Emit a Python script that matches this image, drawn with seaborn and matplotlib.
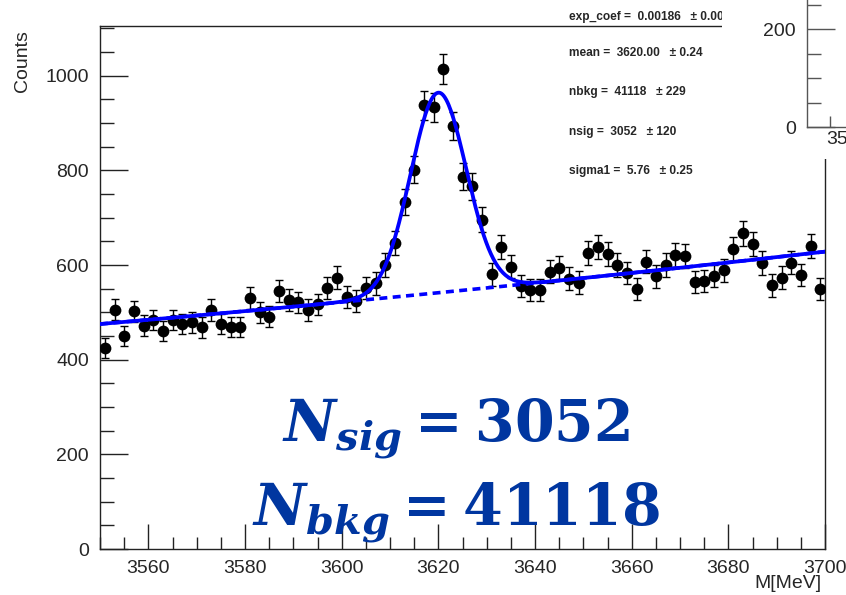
import numpy as np
import matplotlib
matplotlib.use("Agg")
import matplotlib.pyplot as plt
import seaborn as sns
from matplotlib.patches import Rectangle
from matplotlib.ticker import MultipleLocator, FixedLocator

# Invariant-mass spectrum: 2 MeV bins between 3550 and 3700 MeV
bin_centers = np.arange(3551, 3700, 2)
counts = np.array([
    425, 506, 450, 502, 472, 484, 461, 484, 475, 479,
    468, 505, 475, 469, 469, 530, 500, 491, 545, 526,
    521, 505, 517, 552, 573, 533, 524, 552, 561, 600,
    647, 733, 801, 938, 933, 1014, 893, 787, 766, 696,
    580, 639, 596, 556, 547, 547, 586, 594, 571, 563,
    626, 639, 623, 600, 583, 550, 607, 576, 600, 621,
    619, 564, 566, 577, 589, 633, 667, 644, 604, 557,
    573, 605, 579, 640, 549,
])
bin_width = 2.0
x_range = (3550, 3700)

# Fit results (exponential background + Gaussian signal)
exp_coef = 0.00186
mean = 3620.00
nbkg = 41118
nsig = 3052
sigma1 = 5.76
param_lines = [
    "exp_coef =  0.00186   \u00b1 0.00",
    "mean =  3620.00   \u00b1 0.24",
    "nbkg =  41118   \u00b1 229",
    "nsig =  3052   \u00b1 120",
    "sigma1 =  5.76   \u00b1 0.25",
]

# Fit model evaluated per bin
xs = np.linspace(x_range[0], x_range[1], 600)
lo, hi = x_range
bkg = nbkg * bin_width * exp_coef * np.exp(exp_coef * (xs - lo)) / (np.exp(exp_coef * (hi - lo)) - 1)
sig = nsig * bin_width / (np.sqrt(2 * np.pi) * sigma1) * np.exp(-0.5 * ((xs - mean) / sigma1) ** 2)
total = bkg + sig

sns.set_style("ticks")
plt.rcParams["font.family"] = ["Liberation Sans", "DejaVu Sans"]
plt.rcParams["mathtext.fontset"] = "custom"
plt.rcParams["mathtext.rm"] = "DejaVu Serif:bold"
plt.rcParams["mathtext.it"] = "DejaVu Serif:italic:bold"
plt.rcParams["mathtext.bf"] = "DejaVu Serif:bold"

W, H = 846, 595
fig = plt.figure(figsize=(W / 100, H / 100), dpi=100)


def fx(px):
    return px / W


def fy(py):
    return 1 - py / H


axis_color = "#222222"

ax = fig.add_axes([fx(100), fy(549), fx(825) - fx(100), fy(26) - fy(549)])
ax.set_facecolor("white")

ax.errorbar(bin_centers, counts, yerr=np.sqrt(counts), fmt="none",
            ecolor="black", elinewidth=1.0, capsize=3, capthick=1.0, zorder=2)
sns.scatterplot(x=bin_centers, y=counts, color="black", s=72, edgecolor="black",
                linewidth=0, ax=ax, zorder=3)
sns.lineplot(x=xs, y=bkg, color="#0000FF", linewidth=2.6, linestyle=(0, (2.2, 1.5)),
             ax=ax, zorder=4, sort=False)
sns.lineplot(x=xs, y=total, color="#0000FF", linewidth=2.7, ax=ax, zorder=5, sort=False)

ax.set_xlim(*x_range)
ax.set_ylim(0, 1105)
ax.set_xlabel("")
ax.set_ylabel("")
ax.xaxis.set_major_locator(MultipleLocator(20))
ax.xaxis.set_minor_locator(MultipleLocator(5))
ax.yaxis.set_major_locator(MultipleLocator(200))
ax.yaxis.set_minor_locator(MultipleLocator(50))
ax.tick_params(which="both", direction="in", top=False, right=False,
               color=axis_color, width=1.0, labelsize=14, pad=8)
ax.tick_params(axis="x", which="major", length=18)
ax.tick_params(axis="x", which="minor", length=9)
ax.tick_params(axis="y", which="major", length=20)
ax.tick_params(axis="y", which="minor", length=10)
for sp in ax.spines.values():
    sp.set_color(axis_color)
    sp.set_linewidth(1.0)

fig.text(fx(22), fy(30), "Counts", rotation=90, ha="center", va="top", fontsize=14)
fig.text(fx(821), fy(583), "M[MeV]", ha="right", va="center", fontsize=14)

# Fit parameter listing
for yy, line in zip([17, 53, 92, 132, 171], param_lines):
    fig.text(fx(569), fy(yy), line, ha="left", va="center", fontsize=8.6,
             fontweight="bold", zorder=3)

# Yields written in large type
yield_color = "#0036A0"
fig.text(fx(456), fy(440), rf"$N_{{sig}} = {nsig}$", ha="center", va="baseline",
         fontsize=41, color=yield_color, zorder=4)
fig.text(fx(456), fy(525), rf"$N_{{bkg}} = {nbkg}$", ha="center", va="baseline",
         fontsize=41, color=yield_color, zorder=4)

# Neighbouring pad in the upper right corner
fig.add_artist(Rectangle((fx(722), fy(159)), 1 - fx(722), fy(0) - fy(159),
                         transform=fig.transFigure, facecolor="white",
                         edgecolor="none", zorder=5))
ins = fig.add_axes([fx(807), fy(127), (900 - 807) / W, 177 / H], zorder=6)
ins.set_facecolor("none")
ins.set_xlim(3537.2, 3537.2 + 93 / 1.8)
ins.set_ylim(0, 177 / 98 * 200)
ins.xaxis.set_major_locator(FixedLocator([3560]))
ins.xaxis.set_minor_locator(FixedLocator([3550]))
ins.yaxis.set_major_locator(FixedLocator([0, 200]))
ins.yaxis.set_minor_locator(MultipleLocator(50))
ins.spines["top"].set_visible(False)
ins.spines["right"].set_visible(False)
for sp in ("left", "bottom"):
    ins.spines[sp].set_color("#555555")
    ins.spines[sp].set_linewidth(1.0)
ins.tick_params(which="both", direction="in", color="#555555", width=1.0, labelsize=14)
ins.tick_params(axis="y", which="major", length=20, pad=8)
ins.tick_params(axis="y", which="minor", length=10)
ins.tick_params(axis="x", which="major", length=18, pad=3)
ins.tick_params(axis="x", which="minor", length=8)

fig.savefig("out.png", dpi=100)
